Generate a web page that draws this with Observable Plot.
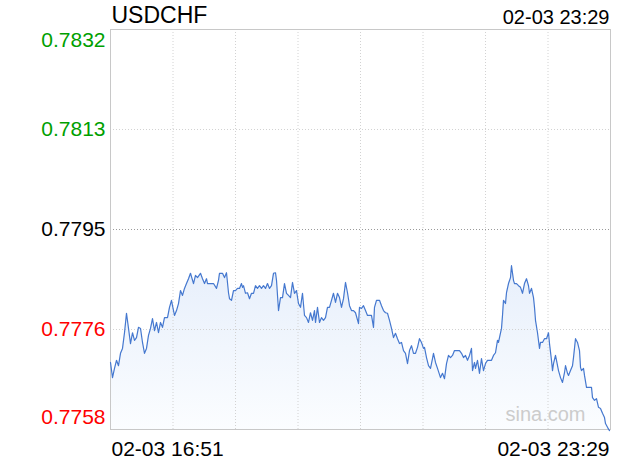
<!DOCTYPE html>
<html><head><meta charset="utf-8">
<script src="https://cdn.jsdelivr.net/npm/d3@7"></script>
<script src="https://cdn.jsdelivr.net/npm/@observablehq/plot@0.6"></script>
<style>html,body{margin:0;padding:0;background:#fff}</style>
</head><body><div id="chart"></div>
<script>
const symbol = "USDCHF";
const timeStart = "02-03 16:51";
const timeEnd = "02-03 23:29";
const watermark = "sina.com";
const prevClose = 0.7795;
const yDomain = [0.7758, 0.7832];
const yTickValues = [0.7758, 0.77765, 0.7795, 0.78135, 0.7832];
const yTickLabels = ["0.7758", "0.7776", "0.7795", "0.7813", "0.7832"];
const xGridTicks = [62.5, 125, 187.5, 250, 312.5, 375, 437.5];
const xDomain = [0, 500];

// tick index (sample position) of each traced point
const ticks = [
  0,2,4,6,8,10,12,14,16,18,
  20,22,24,26,28,30,32,34,36,38,
  40,42,44,46,48,50,52,54,57,59,
  61,62,64,66,68,70,72,74,76,78,
  80,83,85,87,90,92,94,96,97,100,
  103,106,108,109,112,114,116,118,119,121,
  123,125,127,129,131,132,133,135,137,139,
  141,143,145,147,149,151,153,155,157,159,
  161,163,165,166,168,170,172,174,176,178,
  180,182,184,186,188,190,192,194,196,198,
  200,202,204,205,207,209,211,213,215,217,
  219,221,223,225,227,229,231,233,235,237,
  239,241,243,245,248,249,251,253,255,257,
  259,261,263,264,266,269,271,273,275,277,
  279,281,283,285,287,289,291,293,295,297,
  299,301,303,305,307,309,311,313,314,316,
  318,320,322,323,325,327,330,332,334,336,
  338,340,342,344,347,349,351,353,355,357,
  359,361,362,364,365,367,369,371,373,375,
  377,379,381,383,385,387,388,389,391,392,
  393,395,396,398,400,401,403,404,406,408,
  410,412,414,416,418,419,421,423,424,425,
  427,429,430,432,434,436,438,439,441,442,
  443,445,446,448,450,452,454,455,457,458,
  460,462,463,465,467,469,470,471,473,474,
  476,479,481,482,484,486,488,490,492,494,495,497,499
];
const prices = [
  0.77704,0.77676,0.77693,0.77708,0.77698,0.77721,0.77730,0.77759,0.77795,0.77767,
  0.77739,0.77759,0.77745,0.77750,0.77769,0.77767,0.77741,0.77721,0.77730,0.77754,
  0.77767,0.77785,0.77763,0.77778,0.77759,0.77778,0.77769,0.77787,0.77787,0.77806,
  0.77819,0.77809,0.77791,0.77800,0.77813,0.77837,0.77828,0.77841,0.77850,0.77859,
  0.77869,0.77850,0.77865,0.77861,0.77869,0.77859,0.77850,0.77859,0.77850,0.77850,
  0.77850,0.77841,0.77856,0.77869,0.77869,0.77861,0.77870,0.77833,0.77822,0.77819,
  0.77837,0.77837,0.77841,0.77841,0.77850,0.77843,0.77846,0.77832,0.77833,0.77822,
  0.77832,0.77832,0.77846,0.77841,0.77846,0.77841,0.77846,0.77841,0.77850,0.77841,
  0.77846,0.77869,0.77870,0.77856,0.77800,0.77824,0.77824,0.77850,0.77832,0.77828,
  0.77824,0.77852,0.77832,0.77837,0.77813,0.77806,0.77832,0.77791,0.77787,0.77778,
  0.77796,0.77782,0.77800,0.77778,0.77806,0.77778,0.77787,0.77782,0.77787,0.77806,
  0.77806,0.77819,0.77832,0.77815,0.77832,0.77824,0.77806,0.77822,0.77852,0.77833,
  0.77809,0.77800,0.77800,0.77796,0.77776,0.77806,0.77804,0.77809,0.77800,0.77791,
  0.77791,0.77791,0.77769,0.77806,0.77819,0.77819,0.77809,0.77800,0.77796,0.77795,
  0.77782,0.77767,0.77750,0.77758,0.77748,0.77739,0.77741,0.77726,0.77721,0.77702,
  0.77726,0.77735,0.77721,0.77721,0.77732,0.77748,0.77741,0.77730,0.77732,0.77713,
  0.77698,0.77693,0.77711,0.77721,0.77704,0.77693,0.77676,0.77684,0.77674,0.77702,
  0.77717,0.77713,0.77717,0.77726,0.77726,0.77726,0.77721,0.77713,0.77717,0.77708,
  0.77717,0.77730,0.77689,0.77704,0.77693,0.77708,0.77684,0.77711,0.77689,0.77702,
  0.77708,0.77708,0.77708,0.77717,0.77722,0.77745,0.77741,0.77750,0.77767,0.77791,
  0.77819,0.77813,0.77833,0.77850,0.77861,0.77883,0.77856,0.77850,0.77850,0.77846,
  0.77843,0.77832,0.77850,0.77859,0.77846,0.77832,0.77841,0.77824,0.77806,0.77782,
  0.77759,0.77730,0.77741,0.77741,0.77748,0.77748,0.77759,0.77739,0.77708,0.77689,
  0.77702,0.77717,0.77708,0.77689,0.77676,0.77667,0.77685,0.77698,0.77684,0.77680,
  0.77689,0.77698,0.77713,0.77748,0.77741,0.77726,0.77695,0.77689,0.77693,0.77680,
  0.77658,0.77658,0.77658,0.77639,0.77634,0.77637,0.77621,0.77619,0.77610,0.77602,0.77591,0.77584,0.77578
];

const data = ticks.map((t, i) => ({t, p: prices[i]}));
const colorFor = v => v > prevClose + 1e-9 ? "#00a000" : v < prevClose - 1e-9 ? "#ff0000" : "#000000";
const yLab = yTickValues.map((v, i) => ({v, label: yTickLabels[i], c: colorFor(v)}));
const font = "'Liberation Sans', Arial, Helvetica, sans-serif";

const chart = Plot.plot({
  width: 620, height: 460,
  marginLeft: 110, marginRight: 10, marginTop: 29, marginBottom: 31,
  style: {fontFamily: font, background: "#fff", overflow: "visible"},
  x: {domain: xDomain, axis: null},
  y: {domain: yDomain, axis: null},
  color: {type: "identity"},
  marks: [
    Plot.areaY(data, {x: "t", y1: yDomain[0], y2: "p", fill: "url(#areaGrad)"}),
    Plot.ruleX(xGridTicks, {stroke: "#d2d2d2", strokeDasharray: "1,2"}),
    Plot.ruleY([yTickValues[1], yTickValues[3]], {stroke: "#d2d2d2", strokeDasharray: "1,2"}),
    Plot.ruleY([prevClose], {stroke: "#9a9a9a", strokeDasharray: "1,2"}),
    Plot.frame({stroke: "#c8c8c8"}),
    Plot.text([watermark], {text: d => d, frameAnchor: "bottom-right", textAnchor: "end", lineAnchor: "bottom", dx: -25, dy: -9, fontSize: 20, fill: "#cccccc"}),
    Plot.lineY(data, {x: "t", y: "p", stroke: "#4578cf", strokeWidth: 1.2}),
    Plot.text(yLab.slice(1, 4), {y: "v", text: "label", fill: "c", frameAnchor: "left", textAnchor: "end", lineAnchor: "middle", dx: -5, fontSize: 21}),
    Plot.text([yLab[4]], {y: "v", text: "label", fill: "c", frameAnchor: "left", textAnchor: "end", lineAnchor: "top", dx: -5, dy: 3, fontSize: 21}),
    Plot.text([yLab[0]], {y: "v", text: "label", fill: "c", frameAnchor: "left", textAnchor: "end", lineAnchor: "bottom", dx: -5, dy: -6, fontSize: 21}),
    Plot.text([symbol], {text: d => d, frameAnchor: "top-left", textAnchor: "start", lineAnchor: "bottom", dx: 1, dy: -7, fontSize: 23, fill: "#000"}),
    Plot.text([timeEnd], {text: d => d, frameAnchor: "top-right", textAnchor: "end", lineAnchor: "bottom", dx: -1, dy: -6, fontSize: 20, fill: "#000"}),
    Plot.text([timeStart], {text: d => d, frameAnchor: "bottom-left", textAnchor: "start", lineAnchor: "bottom", dx: 1, dy: 26, fontSize: 21, fill: "#000"}),
    Plot.text([timeEnd], {text: d => d, frameAnchor: "bottom-right", textAnchor: "end", lineAnchor: "bottom", dx: -1, dy: 26, fontSize: 21, fill: "#000"})
  ]
});

const ns = "http://www.w3.org/2000/svg";
const defs = document.createElementNS(ns, "defs");
const grad = document.createElementNS(ns, "linearGradient");
grad.setAttribute("id", "areaGrad");
grad.setAttribute("x1", "0"); grad.setAttribute("y1", "0");
grad.setAttribute("x2", "0"); grad.setAttribute("y2", "1");
[["0", "#e7effb"], ["1", "#fbfdff"]].forEach(([o, c]) => {
  const s = document.createElementNS(ns, "stop");
  s.setAttribute("offset", o); s.setAttribute("stop-color", c);
  grad.appendChild(s);
});
defs.appendChild(grad);
chart.insertBefore(defs, chart.firstChild);
document.getElementById("chart").appendChild(chart);
</script>
</body></html>
